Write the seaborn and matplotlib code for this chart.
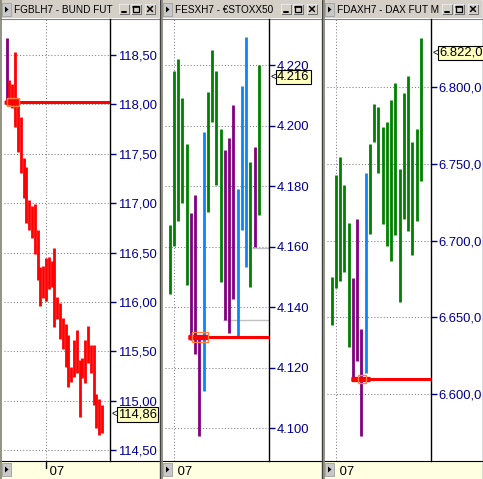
import matplotlib
matplotlib.use("Agg")
import matplotlib.pyplot as plt
import seaborn as sns
from matplotlib.patches import Rectangle, Polygon
from matplotlib.transforms import blended_transform_factory
from matplotlib.ticker import FuncFormatter, FixedLocator

# ---------------- data ----------------
bund_high = [118.67, 118.25, 118.21, 118.53, 118.06, 117.87, 117.46, 117.37, 117.03, 116.97,
             116.99, 116.73, 116.35, 116.36, 116.45, 116.46, 116.41, 116.55, 116.05, 115.99,
             115.84, 115.78, 115.67, 115.34, 115.62, 115.72, 115.41, 115.43, 115.62, 115.76,
             115.56, 115.56, 115.07, 115.02, 114.96]
bund_low = [118.03, 117.99, 117.96, 117.77, 117.52, 117.31, 117.05, 116.80, 116.73, 116.65,
            116.49, 116.22, 115.96, 116.04, 116.01, 116.13, 116.15, 115.75, 115.83, 115.63,
            115.52, 115.34, 115.14, 115.19, 115.24, 115.28, 114.84, 115.23, 115.18, 115.38,
            115.28, 114.96, 114.72, 114.65, 114.67]
bund_color = ["p"] + ["r"] * 34

stoxx_high = [4.1672, 4.2181, 4.2220, 4.2090, 4.1939, 4.1712, 4.1771, 4.1300, 4.1980, 4.2112, 4.2250,
              4.2181, 4.1989, 4.1919, 4.1960, 4.2068, 4.1789, 4.2131, 4.2291, 4.1881, 4.1930, 4.2200]
stoxx_low = [4.1444, 4.1602, 4.1686, 4.1745, 4.1473, 4.1292, 4.1245, 4.0975, 4.1124, 4.1716, 4.2013,
             4.1804, 4.1484, 4.1358, 4.1316, 4.1426, 4.1305, 4.1655, 4.1534, 4.1466, 4.1598, 4.1705]
stoxx_color = ["g", "g", "g", "g", "g", "p", "p", "p", "b", "g", "g",
               "g", "g", "p", "p", "p", "b", "b", "b", "g", "p", "g"]

dax_high = [6676.1, 6742.6, 6754.1, 6736.1, 6711.2, 6675.4, 6713.8, 6642.5, 6743.7, 6762.5, 6788.7,
            6786.6, 6774.0, 6776.8, 6791.3, 6802.2, 6746.3, 6795.7, 6806.9, 6763.8, 6772.5, 6831.4]
dax_low = [6645.1, 6669.3, 6673.9, 6679.7, 6630.6, 6611.5, 6621.9, 6572.9, 6613.7, 6704.0, 6764.2,
           6744.1, 6710.7, 6696.4, 6686.9, 6703.6, 6660.2, 6714.0, 6706.4, 6690.6, 6712.9, 6738.9]
dax_color = ["g", "g", "g", "g", "g", "p", "p", "p", "b"] + ["g"] * 13

titles = ["FGBLH7 - BUND FUT", "FESXH7 - €STOXX50", "FDAXH7 - DAX FUT M"]
last_prices = [114.86, 4.216, 6822.0]
last_labels = ["114,86", "4.216", "6.822,0"]
ref_levels = [118.02, 4.130, 6610.0]
ref_start = [-1.0, 4.2, 4.5]
box_range = [(0.2, 4.3), (5.2, 8.9), (6.3, 8.0)]
thick_range = [(-0.6, 4.3), (4.2, 8.9), (4.5, 8.9)]
gray_levels = [[], [(4.1595, 19.4), (4.1358, 12.6)], []]
date_index = [14, 1, 1]
date_label = "07"
yticks = [[114.5, 115.0, 115.5, 116.0, 116.5, 117.0, 117.5, 118.0, 118.5],
          [4.10, 4.12, 4.14, 4.16, 4.18, 4.20, 4.22],
          [6600, 6650, 6700, 6750, 6800]]

# ---------------- style ----------------
sns.set_theme(style="white")
plt.rcParams["font.family"] = ["Liberation Sans", "DejaVu Sans"]

COLORS = {"g": "#008000", "p": "#800080", "b": "#0A84FF", "r": "#FF0000"}
NAVY = "#00008B"
W, H = 483, 479
fig = plt.figure(figsize=(W / 100, H / 100), dpi=100, facecolor="#D4D0C8")
bg = fig.add_axes([0, 0, 1, 1])
bg.set_xlim(0, W)
bg.set_ylim(H, 0)
bg.axis("off")


def rect(x0, y0, x1, y1):
    return [x0 / W, 1 - y1 / H, (x1 - x0) / W, (y1 - y0) / H]


fmt1 = FuncFormatter(lambda v, p: f"{v:.2f}".replace(".", ","))
fmt2 = FuncFormatter(lambda v, p: f"{v:.3f}")
fmt3 = FuncFormatter(lambda v, p: f"{v:,.1f}".replace(",", "X").replace(".", ",").replace("X", "."))

panels = [
    dict(frame=(0, 160), ax=(4, 110), ylim=(114.391, 118.864), xlim=(-0.96, 36.86), fmt=fmt1,
         high=bund_high, low=bund_low, col=bund_color, boxh=0.04),
    dict(frame=(161, 322), ax=(165, 269), ylim=(4.0892, 4.2352), xlim=(-1.1, 23.35), fmt=fmt2,
         high=stoxx_high, low=stoxx_low, col=stoxx_color, boxh=0.00165),
    dict(frame=(323, 483), ax=(327, 431), ylim=(6556.7, 6844.0), xlim=(-1.1, 23.35), fmt=fmt3,
         high=dax_high, low=dax_low, col=dax_color, boxh=2.9),
]

for i, P in enumerate(panels):
    fx0, fx1 = P["frame"]
    ax0, ax1 = P["ax"]
    # panel chrome
    bg.add_patch(Rectangle((fx0, 0), fx1 - fx0, H, facecolor="white", edgecolor="none"))
    bg.add_patch(Rectangle((fx0, 0), fx1 - fx0 - 1, 18, facecolor="#D4D0C8", edgecolor="none"))
    bg.plot([fx0, fx1 - 1], [18.5, 18.5], color="#808080", lw=0.8)
    bg.add_patch(Rectangle((fx0, 461), fx1 - fx0 - 1, 18, facecolor="#FFFFE1", edgecolor="none"))
    bg.plot([fx0, fx1 - 1], [461, 461], color="black", lw=0.8)
    bg.plot([fx0 + 0.5, fx0 + 0.5], [0, H], color="#808070", lw=1.2)
    bg.plot([fx1 - 0.5, fx1 - 0.5], [0, H], color="#404040", lw=1.0)
    # small arrow buttons
    for yb in (3, 463):
        bg.add_patch(Rectangle((fx0 + 2, yb), 9, 13, facecolor="#C8C8C8", edgecolor="#A0A0A0", lw=0.6))
        bg.add_patch(Polygon([(fx0 + 5, yb + 3.5), (fx0 + 5, yb + 9.5), (fx0 + 8.5, yb + 6.5)],
                             closed=True, facecolor="black", edgecolor="none"))
    # title text
    t = bg.text(fx0 + 14, 9.5, titles[i], fontsize=7.2, family="Liberation Sans", va="center", ha="left",
                color="black")
    clip = Rectangle((fx0 + 13, 0), fx1 - fx0 - 13 - 42, 18, transform=bg.transData)
    t.set_clip_path(clip)
    # window buttons
    bx = fx1 - 41
    for k in range(3):
        x = bx + k * 12 + (2 if k == 2 else 0)
        bg.add_patch(Rectangle((x, 4), 10, 10, facecolor="#D4D0C8", edgecolor="#606060", lw=0.6))
        bg.plot([x, x + 10], [4.3, 4.3], color="white", lw=0.6)
        bg.plot([x + 0.3, x + 0.3], [4, 14], color="white", lw=0.6)
        if k == 0:
            bg.plot([x + 2.5, x + 6.5], [11.5, 11.5], color="black", lw=1.4)
        elif k == 1:
            bg.add_patch(Rectangle((x + 2, 6), 6, 6, facecolor="none", edgecolor="black", lw=0.9))
            bg.plot([x + 2, x + 8], [6.6, 6.6], color="black", lw=1.2)
        else:
            bg.plot([x + 2.5, x + 7.5], [6.5, 11.5], color="black", lw=1.1)
            bg.plot([x + 2.5, x + 7.5], [11.5, 6.5], color="black", lw=1.1)

    # data axes
    ax = fig.add_axes(rect(ax0, 19, ax1, 461))
    ax.set_facecolor("none")
    n = len(P["high"])
    xs = list(range(n))
    for c in "gpbr":
        idx = [k for k in xs if P["col"][k] == c]
        if idx:
            ax.vlines(idx, [P["low"][k] for k in idx], [P["high"][k] for k in idx],
                      colors=COLORS[c], lw=2.0, zorder=3)
    ax.set_xlim(*P["xlim"])
    ax.set_ylim(*P["ylim"])
    ax.yaxis.set_major_locator(FixedLocator(yticks[i]))
    ax.yaxis.set_major_formatter(P["fmt"])
    ax.yaxis.tick_right()
    ax.tick_params(axis="y", direction="out", length=4, width=1, colors=NAVY, pad=1.5,
                   labelsize=9.4, labelcolor=NAVY)
    ax.set_xticks([])
    for s in ("left", "top", "bottom"):
        ax.spines[s].set_visible(False)
    ax.spines["right"].set_color("black")
    ax.spines["right"].set_linewidth(1.0)
    for v in yticks[i]:
        ax.axhline(v, color="#808080", lw=0.75, ls=(0, (1, 2)), zorder=1)
    ax.axvline(date_index[i], color="#808080", lw=0.75, ls=(0, (1, 2)), zorder=1)
    # gray reference lines
    for lvl, start in gray_levels[i]:
        ax.hlines(lvl, start, P["xlim"][1], colors="#C0C0C0", lw=1.0, zorder=2)
    # red reference line
    ax.hlines(ref_levels[i], ref_start[i], P["xlim"][1], colors="#FF0000", lw=2.2, zorder=4)
    t0, t1 = thick_range[i]
    ax.hlines(ref_levels[i], t0, t1, colors="#FF0000", lw=3.8, zorder=4)
    b0, b1 = box_range[i]
    ax.add_patch(Rectangle((b0, ref_levels[i] - P["boxh"]), b1 - b0, 2 * P["boxh"],
                           facecolor="none", edgecolor="#FF8040", lw=1.0, zorder=5))
    # last price label
    ax.annotate(last_labels[i], xy=(1, last_prices[i]), xycoords=("axes fraction", "data"),
                xytext=(5.8, 0), textcoords="offset points", va="center", ha="left",
                fontsize=9.4, color="black", annotation_clip=False, zorder=6,
                bbox=dict(boxstyle="square,pad=0.1", facecolor="#FFFFC0", edgecolor="black", lw=0.8))
    ax.annotate("<", xy=(1, last_prices[i]), xycoords=("axes fraction", "data"),
                xytext=(1.3, 0.3), textcoords="offset points", va="center", ha="left",
                fontsize=7.2, color="black", annotation_clip=False, zorder=8)
    # date label in bottom bar
    tr = blended_transform_factory(ax.transData, bg.transData)
    if i == 0:
        bg.plot([date_index[i], date_index[i]], [461, 468], color="black", lw=1.0, transform=tr)
    bg.text(date_index[i], 472, " " + date_label, transform=tr, fontsize=9.4, va="center", ha="left",
            color="black")

fig.savefig("out.png", dpi=100, facecolor=fig.get_facecolor())
